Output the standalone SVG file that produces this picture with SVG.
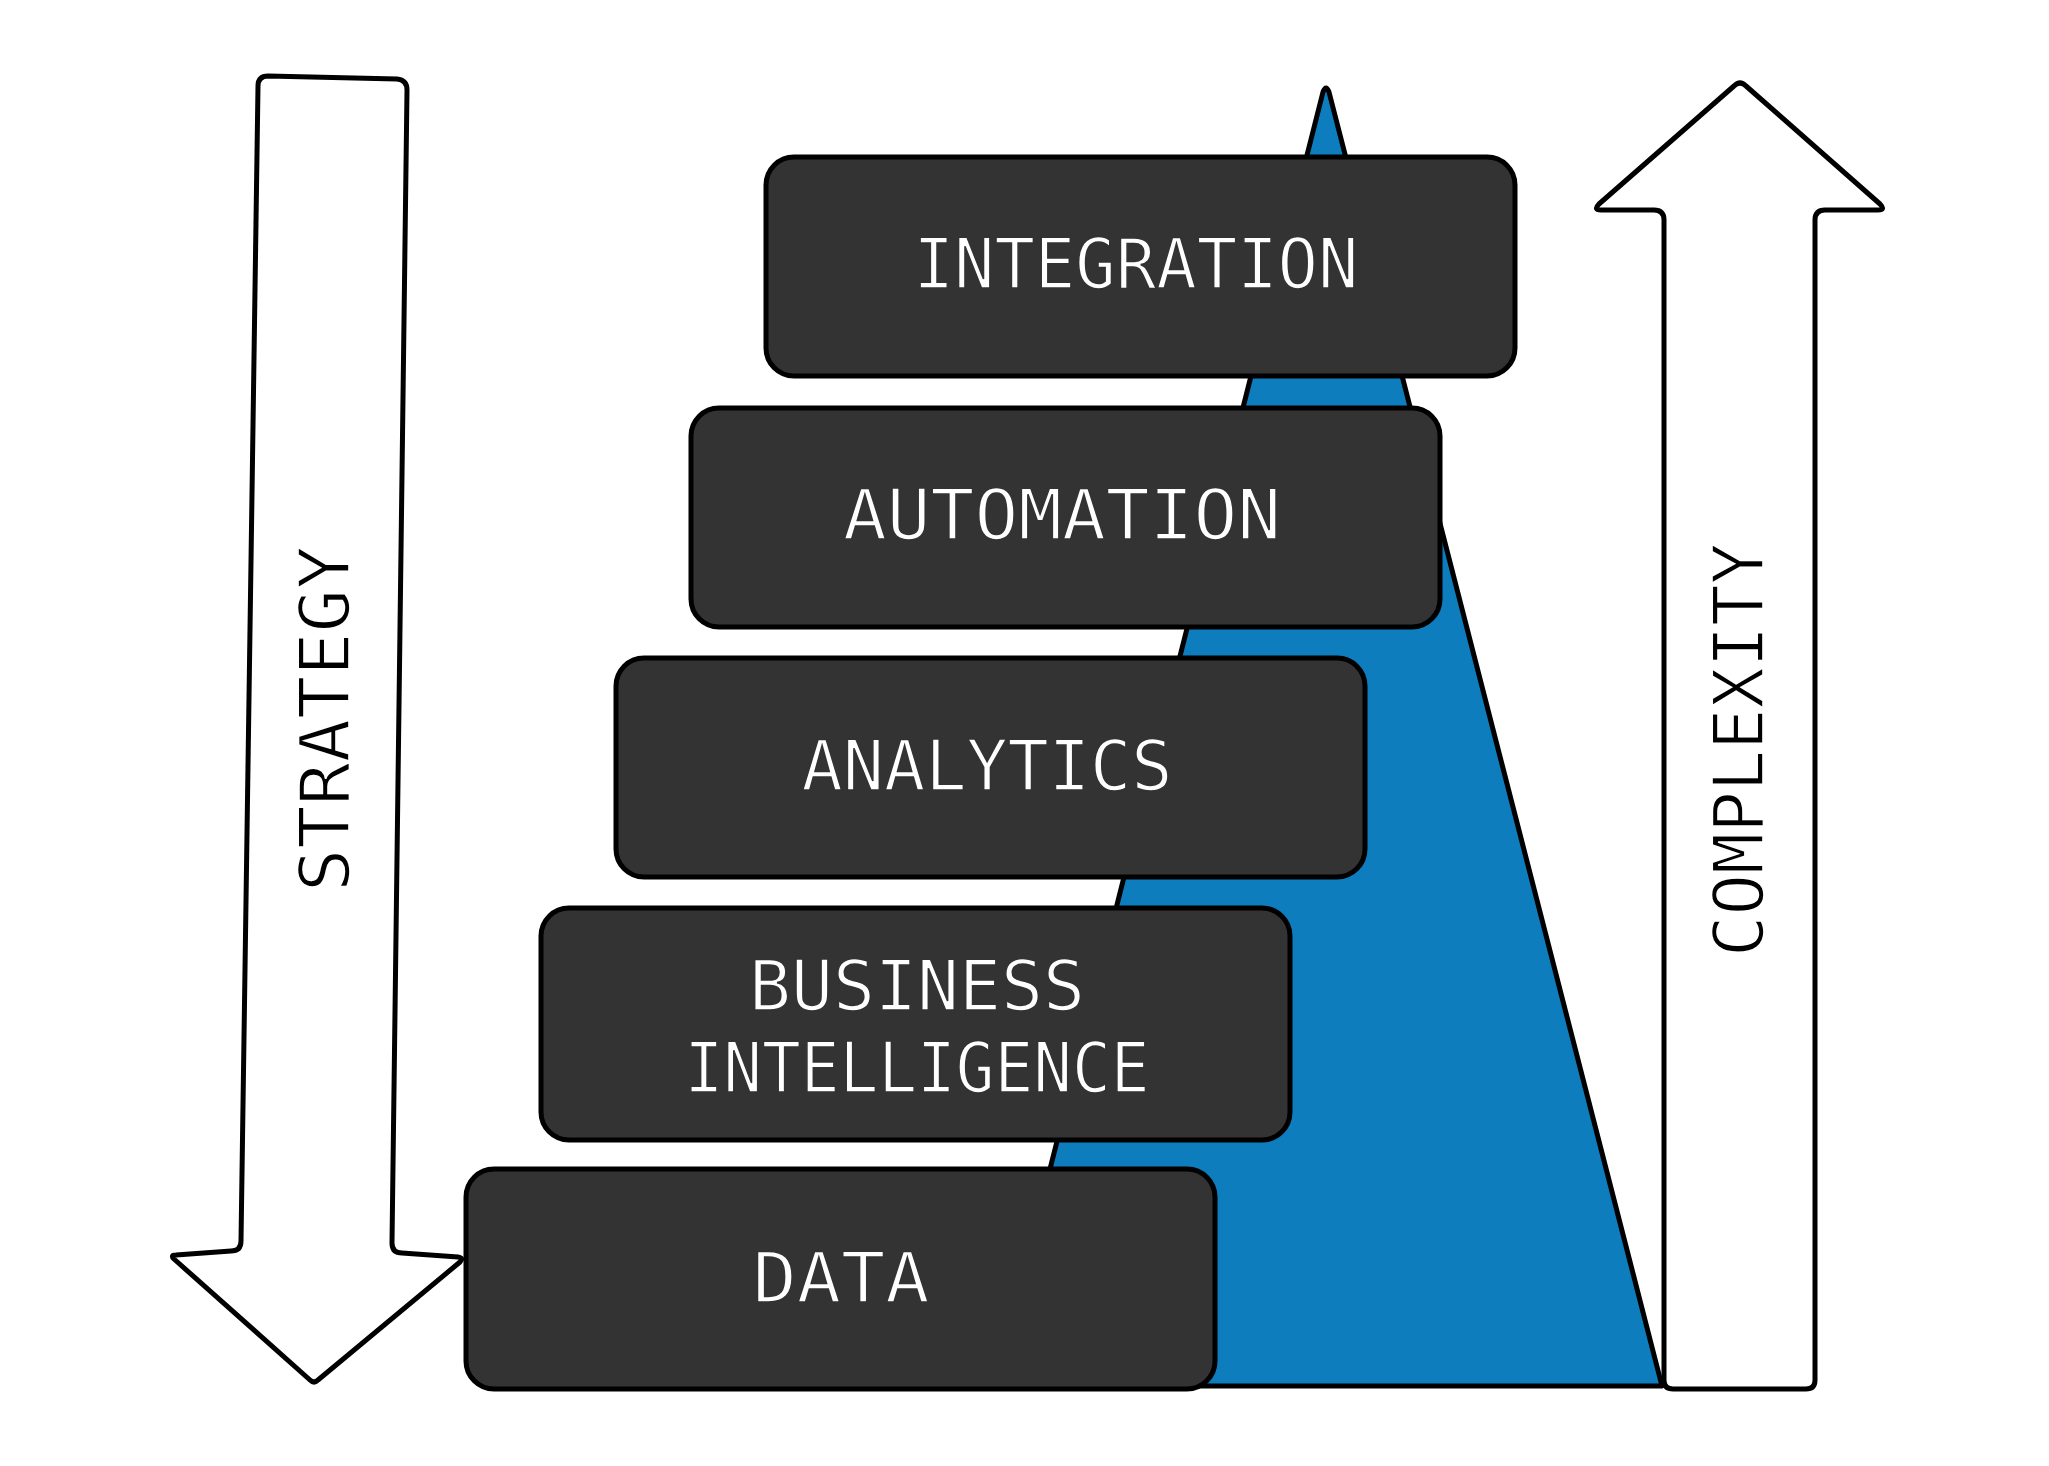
<svg xmlns="http://www.w3.org/2000/svg" width="2049" height="1466" viewBox="0 0 2049 1466">
<style>
.box{fill:#333333;stroke:#000000;stroke-width:5;}
.arrow{fill:#ffffff;stroke:#000000;stroke-width:5;stroke-linejoin:round;}
.lbl{font-family:"DejaVu Sans Mono","Liberation Mono",monospace;font-size:70px;fill:#ffffff;stroke:#333333;stroke-width:1.6;text-anchor:middle;}
.side{font-family:"DejaVu Sans Mono","Liberation Mono",monospace;font-size:70px;fill:#000000;stroke:#ffffff;stroke-width:1.6;text-anchor:middle;}
</style>
<rect x="0" y="0" width="2049" height="1466" fill="#ffffff"/>
<g id="pyramid">
<path d="M 1323,92 Q 1326,84 1329,92 L 1662,1386 L 995,1386 Z" fill="#0e7dbd" stroke="#000000" stroke-width="5" stroke-linejoin="round"/>
</g>
<g id="strategy-arrow">
<path class="arrow" d="M 258,86 Q 258,76 268,76 L 397,79 Q 407,80 407,90 L 392,1243 Q 392,1253 402,1253 L 458,1257 Q 464,1258 460,1262 L 318,1380 Q 314,1384 310,1380 L 174,1259 Q 170,1255 176,1255 L 231,1251 Q 241,1251 241,1241 Z"/>
<text class="side" transform="translate(349,719) rotate(-90)" textLength="346" lengthAdjust="spacingAndGlyphs">STRATEGY</text>
</g>
<g id="complexity-arrow">
<path class="arrow" d="M 1734,86 Q 1740,80 1746,86 L 1880,204 Q 1886,210 1878,210 L 1825,210 Q 1815,210 1815,220 L 1815,1380 Q 1815,1389 1806,1389 L 1673,1389 Q 1664,1389 1664,1380 L 1664,220 Q 1664,210 1654,210 L 1601,210 Q 1593,210 1599,204 Z"/>
<text class="side" transform="translate(1763,750) rotate(-90)" textLength="414" lengthAdjust="spacingAndGlyphs">COMPLEXITY</text>
</g>
<g id="data">
<rect class="box" x="466" y="1169" width="749" height="220" rx="28"/>
<text class="lbl" x="841" y="1302" textLength="177" lengthAdjust="spacingAndGlyphs">DATA</text>
</g>
<g id="business-intelligence">
<rect class="box" x="541" y="908" width="749" height="232" rx="28"/>
<text class="lbl" x="917" y="1010" textLength="336" lengthAdjust="spacingAndGlyphs">BUSINESS</text>
<text class="lbl" x="917" y="1092" textLength="465" lengthAdjust="spacingAndGlyphs">INTELLIGENCE</text>
</g>
<g id="analytics">
<rect class="box" x="616" y="658" width="749" height="219" rx="28"/>
<text class="lbl" x="987" y="790" textLength="371" lengthAdjust="spacingAndGlyphs">ANALYTICS</text>
</g>
<g id="automation">
<rect class="box" x="691" y="408" width="749" height="219" rx="28"/>
<text class="lbl" x="1062" y="539" textLength="438" lengthAdjust="spacingAndGlyphs">AUTOMATION</text>
</g>
<g id="integration">
<rect class="box" x="766" y="157" width="749" height="219" rx="28"/>
<text class="lbl" x="1136" y="288" textLength="445" lengthAdjust="spacingAndGlyphs">INTEGRATION</text>
</g>
</svg>
